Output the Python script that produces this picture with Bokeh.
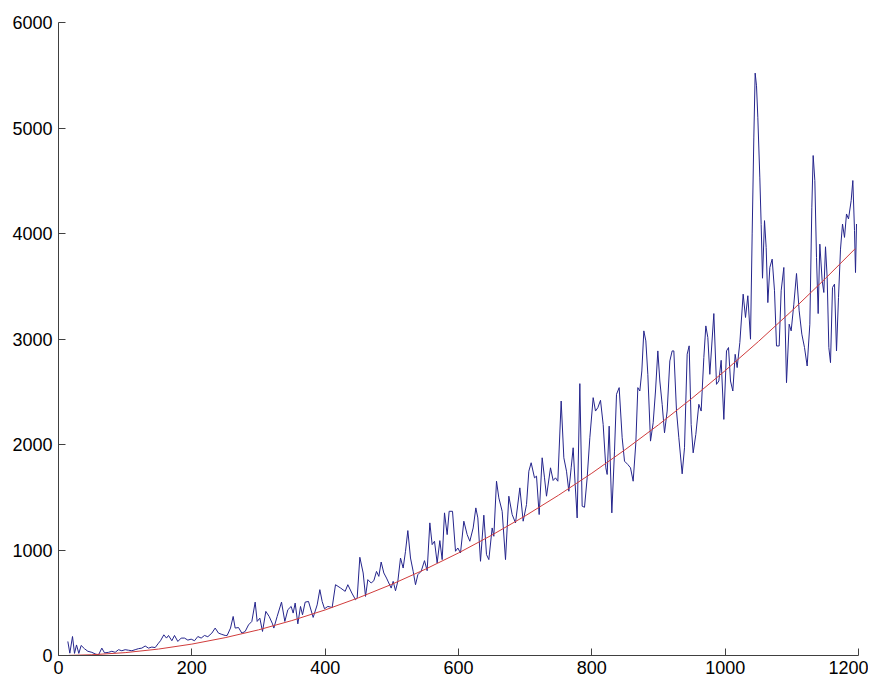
from bokeh.plotting import figure
from bokeh.models import Range1d, FixedTicker
from bokeh.embed import file_html
from bokeh.resources import INLINE

# Noisy measured series (blue)
data_x = [14, 17, 21, 24, 27, 30.5, 34, 39, 44, 50, 55, 60, 65, 69, 75, 80, 85, 90, 95, 100,
          105, 110, 115, 120, 125, 130, 135, 140, 145, 150, 153, 158, 162, 165, 170, 174, 179,
          184, 189, 194, 199, 204, 209, 214, 219, 224, 230, 235, 240, 245, 250,
          253, 258, 262, 265, 270, 275, 280, 285, 290, 295, 298, 302, 306, 311, 316, 321, 323,
          328, 334.5, 339.5, 344, 349, 352, 355, 359, 363, 366, 370, 375, 382, 388, 392, 395.5,
          399, 404, 410.5, 415.5, 423, 430, 434, 440, 445.5, 448, 452, 457, 460.5, 464, 469,
          473, 477, 480.5, 484, 488, 492,
          499, 502, 505.5, 509, 513, 517, 520.5, 524, 528, 532, 535.5, 539, 544, 549, 553, 557,
          560.5, 564, 568, 572, 575.5, 579, 583, 586, 591, 595.5, 599, 603, 608, 613, 617, 622,
          626, 629, 633, 638, 642, 645.5, 650.5, 653, 657, 660.5, 665.5, 670.5, 675.5, 680.5,
          685.5, 692, 697, 702, 705.5, 709, 714, 717, 721, 725.5, 729, 732,
          738, 742, 745.5, 749, 754, 758, 762, 765.5, 769, 772, 775, 778, 782, 785.5, 789, 793,
          797, 802, 805.5, 809, 813, 817, 821, 823, 826, 830, 834, 837, 841, 845.5, 849, 854,
          858, 862, 866, 869, 872, 875, 878, 881, 884, 888, 892, 895.5, 899, 902, 905.5, 909,
          913, 917, 920.5, 923, 927, 930.5, 935.5, 939, 943, 946, 949, 952, 956, 960.5, 964,
          968, 971, 974, 977,
          983, 987, 990.5, 994, 998, 1002, 1005, 1008, 1011.5, 1015, 1018, 1022, 1027, 1030.5,
          1034, 1038, 1040.5, 1043, 1045, 1047, 1049, 1052, 1054, 1056, 1059, 1061.5, 1064,
          1067, 1070.5, 1074, 1077, 1081, 1084, 1088, 1092, 1096, 1099, 1103, 1107, 1111, 1115,
          1119, 1123, 1127, 1130, 1132, 1134.5, 1137, 1139.5, 1142, 1145.5, 1148, 1150.5, 1153,
          1155.5, 1158, 1161, 1164, 1167, 1170, 1173, 1176, 1179, 1182, 1185, 1189, 1191.5,
          1194, 1195.5, 1197]
data_y = [133, 22, 180, 20, 100, 20, 95, 64, 40, 30, 15, 5, 70, 25, 30, 40, 30, 55, 45, 55,
          50, 45, 55, 65, 70, 90, 70, 80, 75, 117, 140, 196, 165, 190, 140, 190, 133,
          165, 165, 146, 155, 140, 180, 165, 190, 178, 212, 260, 212, 200, 190,
          190, 260, 370, 260, 265, 212, 228, 290, 323, 506, 323, 354, 228, 418, 370, 300, 260,
          370, 506, 323, 434, 465, 402, 497, 300, 465, 386, 506, 512, 361, 480, 624, 512,
          443, 465, 455, 671, 640, 608, 671, 592, 529, 544, 931, 782, 560, 719, 687,
          709, 797, 750, 886, 782, 734,
          639, 703, 614, 703, 924, 829, 988, 1184, 924, 798, 671, 766, 798, 899, 804, 1257,
          1051, 1083, 877, 1089, 909, 1352, 1146, 1367, 1367, 988, 1019, 972, 1273, 1146, 1083, 1209,
          1399, 1304, 893, 1330, 956, 909, 1209, 1130, 1652, 1494, 1367, 909, 1510, 1336,
          1257, 1589, 1273, 1431, 1747, 1827, 1684, 1700, 1336, 1874, 1684, 1510,
          1779, 1659, 1684, 1652, 2412, 1874, 1747, 1557, 1779, 1969, 1621, 1304, 2577, 1415, 1405, 1684,
          2064, 2444, 2317, 2349, 2419, 2190, 1779, 1716, 2174, 1352, 1937, 2476, 2539, 2064, 1842, 1810,
          1779, 1652, 2016, 2539, 2507, 2697, 3077, 2982, 2665, 2032, 2206, 2507, 2887, 2602, 2381, 2111,
          2317, 2792, 2887, 2887, 2317, 2064, 1722, 1969, 2856, 2935, 2190, 1921, 2096, 2381, 2317,
          2824, 3124, 3014, 2665,
          3241, 2570, 2602, 2798, 2238, 2887, 2919, 2602, 2507, 2855, 2729, 2966, 3425, 3204,
          3410, 2998, 3996, 4914, 5520, 5400, 5097, 4527, 4084, 3576, 4122, 3867, 3345,
          3678, 3757, 3457, 2934, 2934, 3457, 3678, 2586, 3140, 3077, 3330, 3621, 3267, 3046,
          2919, 2744, 3140, 4249, 4739, 4502, 3773, 3241, 3899, 3552, 3441, 3874, 3583,
          2919, 2776, 3488, 3520, 2887, 3394, 3852, 4090, 3963, 4185, 4138, 4312, 4502,
          4027, 3630, 4090]

# Smooth fitted curve (red)
fit_x = [15, 50, 100, 150, 200, 250, 300, 350, 400, 450, 500, 550, 600, 650, 700, 750,
         800, 850, 900, 950, 1000, 1050, 1100, 1150, 1195]
fit_y = [1, 7, 27, 61, 108, 169, 243, 331, 432, 547, 675, 817, 972, 1141, 1323, 1519,
         1728, 1951, 2187, 2437, 2700, 2977, 3267, 3571, 3856]

x_ticks = [0, 200, 400, 600, 800, 1000, 1200]
y_ticks = [0, 1000, 2000, 3000, 4000, 5000, 6000]

p = figure(width=868, height=676, output_backend="svg", toolbar_location=None,
           x_range=Range1d(0, 1200), y_range=Range1d(0, 6000),
           min_border_left=58, min_border_right=10, min_border_top=22, min_border_bottom=0)
p.outline_line_color = None
p.xgrid.visible = False
p.ygrid.visible = False
p.background_fill_color = "white"
p.border_fill_color = "white"

for ax, ticks in ((p.xaxis[0], x_ticks), (p.yaxis[0], y_ticks)):
    ax.ticker = FixedTicker(ticks=ticks)
    ax.axis_line_color = "#404040"
    ax.axis_line_width = 1
    ax.major_tick_line_color = "#404040"
    ax.major_tick_in = 7
    ax.major_tick_out = 0
    ax.minor_tick_line_color = None
    ax.major_label_text_font = "Liberation Sans"
    ax.major_label_text_font_size = "18px"
    ax.major_label_text_color = "black"

p.xaxis[0].major_label_standoff = 5
p.yaxis[0].major_label_standoff = 6

p.line(data_x, data_y, line_color="#25258c", line_width=1)
p.line(fit_x, fit_y, line_color="#d03c3c", line_width=1)

open("out.html", "w").write(file_html(p, INLINE))
